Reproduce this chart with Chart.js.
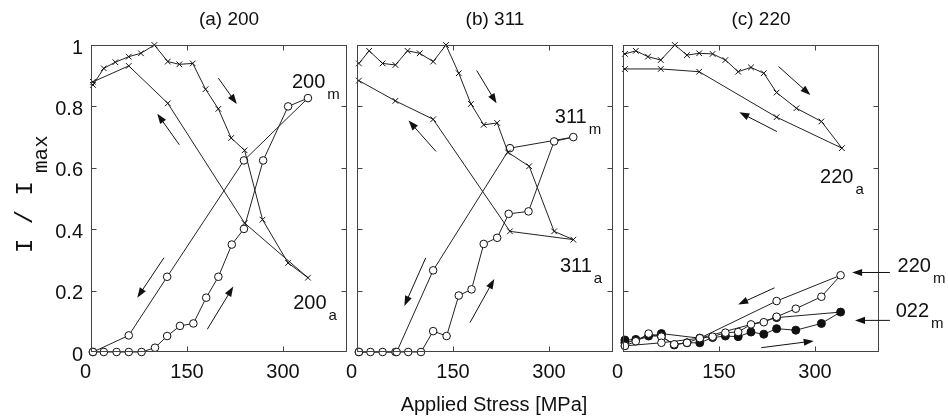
<!DOCTYPE html>
<html><head><meta charset="utf-8">
<script src="https://cdn.jsdelivr.net/npm/chart.js@4/dist/chart.umd.min.js"></script>
<style>
html,body{margin:0;padding:0;background:#fff;}
#wrap{position:relative;width:948px;height:420px;background:#fff;}
#wrap canvas{position:absolute;left:0;top:0;}
</style></head><body>
<div id="wrap">
<canvas id="ca" width="948" height="420"></canvas>
<canvas id="cb" width="948" height="420"></canvas>
<canvas id="cc" width="948" height="420"></canvas>
</div>
<script>
// ---- tick labels ----
const xTickValues = [0, 150, 300];
const xTickLabels = ['0', '150', '300'];
const yTickValues = [0, 0.2, 0.4, 0.6, 0.8, 1];
const yTickLabels = ['0', '0.2', '0.4', '0.6', '0.8', '1'];

// ---- panel (a) 200 ----
const stressA_a = [3, 20, 38, 59, 78, 99, 120, 138, 159, 179, 199, 219, 240, 268, 308, 339, 240, 120, 59, 3];
const intA_a    = [0.87, 0.924, 0.944, 0.962, 0.973, 1.0, 0.946, 0.937, 0.94, 0.856, 0.792, 0.697, 0.657, 0.431, 0.29, 0.242, 0.42, 0.81, 0.932, 0.88];
const stressA_m = [3, 20, 40, 59, 79, 100, 119, 139, 160, 180, 199, 220, 239, 269, 308, 339, 239, 119, 59, 3];
const intA_m    = [0, 0, 0, 0, 0, 0.014, 0.052, 0.085, 0.093, 0.177, 0.245, 0.35, 0.401, 0.624, 0.80, 0.827, 0.624, 0.245, 0.054, 0];

// ---- panel (b) 311 ----
const stressB_a = [3, 19, 40, 60, 79, 98, 119, 139, 159, 178, 198, 219, 236, 269, 308, 338, 239, 119, 60, 3];
const intB_a    = [0.94, 0.981, 0.94, 0.935, 0.981, 0.973, 0.946, 1.0, 0.908, 0.808, 0.74, 0.746, 0.65, 0.605, 0.393, 0.366, 0.393, 0.758, 0.818, 0.884];
const stressB_m = [3, 21, 40, 60, 80, 100, 119, 140, 159, 179, 198, 219, 237, 268, 308, 338, 239, 119, 62, 3];
const intB_m    = [0, 0, 0, 0, 0, 0, 0.068, 0.052, 0.184, 0.204, 0.352, 0.372, 0.45, 0.458, 0.686, 0.70, 0.664, 0.266, 0, 0];

// ---- panel (c) 220 ----
const stressC_a = [3, 20, 39, 59, 81, 100, 119, 140, 160, 180, 200, 220, 240, 271, 310, 342, 240, 119, 59, 3];
const intC_a    = [0.971, 0.981, 0.962, 0.951, 1.0, 0.967, 0.973, 0.971, 0.951, 0.913, 0.927, 0.908, 0.845, 0.794, 0.751, 0.664, 0.765, 0.913, 0.922, 0.922];
const stressC_m = [3, 20, 40, 60, 80, 100, 120, 140, 160, 180, 200, 220, 240, 270, 310, 340, 240, 120, 60, 3];
const intC_m    = [0.02, 0.035, 0.06, 0.05, 0.025, 0.03, 0.045, 0.05, 0.063, 0.065, 0.09, 0.097, 0.115, 0.141, 0.18, 0.25, 0.166, 0.045, 0.03, 0.02];
const stressC_f = [3, 20, 40, 60, 80, 100, 120, 140, 160, 180, 200, 220, 240, 270, 310, 340, 240, 120, 60, 3];
const intC_f    = [0.039, 0.041, 0.052, 0.052, 0.023, 0.03, 0.03, 0.047, 0.052, 0.05, 0.065, 0.058, 0.076, 0.071, 0.093, 0.13, 0.112, 0.045, 0.06, 0.03];

const FONT = '"Liberation Sans", Arial, sans-serif';
const MONO = '"Liberation Mono", "Courier New", monospace';
const INK = '#111';

function pts(xs, ys) { return xs.map((v, i) => ({ x: v, y: ys[i] })); }

function crossDs(xs, ys) {
  return { data: pts(xs, ys), showLine: true, borderColor: '#222', borderWidth: 1,
    pointStyle: 'crossRot', pointRadius: 4, pointBorderColor: INK, pointBorderWidth: 1,
    pointBackgroundColor: INK, clip: false };
}
function openDs(xs, ys) {
  return { data: pts(xs, ys), showLine: true, borderColor: '#222', borderWidth: 1,
    pointStyle: 'circle', pointRadius: 3.8, pointBorderColor: INK, pointBorderWidth: 1,
    pointBackgroundColor: '#fff', clip: false };
}
function filledDs(xs, ys) {
  return { data: pts(xs, ys), showLine: true, borderColor: '#222', borderWidth: 1,
    pointStyle: 'circle', pointRadius: 4, pointBorderColor: INK, pointBorderWidth: 1,
    pointBackgroundColor: INK, clip: false };
}

function drawArrow(ctx, x1, y1, x2, y2) {
  const ang = Math.atan2(y2 - y1, x2 - x1);
  const L = 10, H = 3.6;
  ctx.beginPath();
  ctx.moveTo(x1, y1);
  ctx.lineTo(x2 - L * 0.8 * Math.cos(ang), y2 - L * 0.8 * Math.sin(ang));
  ctx.stroke();
  ctx.beginPath();
  ctx.moveTo(x2, y2);
  ctx.lineTo(x2 - L * Math.cos(ang) + H * Math.sin(ang), y2 - L * Math.sin(ang) - H * Math.cos(ang));
  ctx.lineTo(x2 - L * Math.cos(ang) - H * Math.sin(ang), y2 - L * Math.sin(ang) + H * Math.cos(ang));
  ctx.closePath();
  ctx.fill();
}

const framePlugin = {
  id: 'frame',
  afterDatasetsDraw(chart) {
    const { ctx, chartArea: a, scales: { x, y } } = chart;
    ctx.save();
    ctx.strokeStyle = '#444';
    ctx.lineWidth = 1;
    const L = Math.round(a.left) + 0.5, R = Math.round(a.right) - 0.5;
    const T = Math.round(a.top) + 0.5, B = Math.round(a.bottom) - 0.5;
    ctx.strokeRect(L, T, R - L, B - T);
    ctx.beginPath();
    xTickValues.forEach(v => {
      if (v === 0) return;
      const px = Math.round(x.getPixelForValue(v)) + 0.5;
      ctx.moveTo(px, B); ctx.lineTo(px, B - 5);
      ctx.moveTo(px, T); ctx.lineTo(px, T + 5);
    });
    yTickValues.forEach(v => {
      if (v === 0 || v === 1) return;
      const py = Math.round(y.getPixelForValue(v)) + 0.5;
      ctx.moveTo(L, py); ctx.lineTo(L + 5, py);
      ctx.moveTo(R, py); ctx.lineTo(R - 5, py);
    });
    ctx.stroke();
    ctx.restore();
  }
};

const annotPlugin = {
  id: 'annot',
  afterDraw(chart, args, opts) {
    const { ctx, chartArea: a, scales: { x, y } } = chart;
    ctx.save();
    ctx.fillStyle = INK; ctx.strokeStyle = INK; ctx.lineWidth = 1;
    (opts.arrows || []).forEach(r => drawArrow(ctx,
      x.getPixelForValue(r[0]), y.getPixelForValue(r[1]),
      x.getPixelForValue(r[2]), y.getPixelForValue(r[3])));
    (opts.labels || []).forEach(l => {
      const px = x.getPixelForValue(l.x), py = y.getPixelForValue(l.y);
      ctx.textAlign = 'left'; ctx.textBaseline = 'alphabetic';
      ctx.font = '20px ' + FONT;
      ctx.fillText(l.t, px, py);
      const w = ctx.measureText(l.t).width;
      ctx.font = '15px ' + FONT;
      ctx.fillText(l.s, px + w + 2, py + 11);
    });
    if (opts.title) {
      ctx.font = '19px ' + FONT;
      ctx.textAlign = 'center'; ctx.textBaseline = 'middle';
      ctx.fillText(opts.title, (a.left + a.right) / 2 + 10, 20);
    }
    if (opts.xTitle) {
      ctx.font = '20px ' + FONT;
      ctx.textAlign = 'center'; ctx.textBaseline = 'middle';
      ctx.fillText(opts.xTitle, (a.left + a.right) / 2 + 9, 405);
    }
    if (opts.yTitle) {
      ctx.translate(32, 253);
      ctx.rotate(-Math.PI / 2);
      ctx.textAlign = 'left'; ctx.textBaseline = 'alphabetic';
      ctx.font = '24px ' + MONO;
      ctx.fillText(opts.yTitle[0], 0, 0);
      const w = ctx.measureText(opts.yTitle[0]).width;
      ctx.font = '21px ' + MONO;
      ctx.fillText(opts.yTitle[1], w + 8, 15);
    }
    ctx.restore();
  }
};

function makeChart(id, left, datasets, showY, annot) {
  return new Chart(document.getElementById(id), {
    type: 'scatter',
    data: { datasets },
    options: {
      responsive: false, animation: false, devicePixelRatio: 1,
      layout: { padding: { left: showY ? 0 : left, right: 948 - (left + 256), top: 45, bottom: 0 } },
      plugins: { legend: { display: false }, tooltip: { enabled: false }, title: { display: false }, annot },
      scales: {
        x: {
          type: 'linear', min: 0, max: 400,
          afterBuildTicks: s => { s.ticks = xTickValues.map(v => ({ value: v })); },
          afterFit: s => { s.height = 68; },
          grid: { display: false, drawTicks: false }, border: { display: false },
          ticks: { color: INK, font: { family: FONT, size: 20 }, padding: 8, maxRotation: 0, autoSkip: false,
            callback: (v, i) => (i === 0 ? xTickLabels[i] + '  ' : xTickLabels[i]) }
        },
        y: {
          type: 'linear', min: 0, max: 1,
          afterBuildTicks: s => { s.ticks = yTickValues.map(v => ({ value: v })); },
          afterFit: s => { s.width = showY ? left : 0; },
          grid: { display: false, drawTicks: false }, border: { display: false },
          ticks: { display: showY, color: INK, font: { family: FONT, size: 20 }, padding: 8, labelOffset: 3,
            callback: (v, i) => yTickLabels[i] }
        }
      }
    },
    plugins: [framePlugin, annotPlugin]
  });
}

makeChart('ca', 91, [crossDs(stressA_a, intA_a), openDs(stressA_m, intA_m)], true, {
  title: '(a) 200',
  yTitle: ['I / I', 'max'],
  arrows: [[199, 0.892, 227.7, 0.808], [138, 0.675, 103.6, 0.776], [114, 0.307, 72.3, 0.177], [181.7, 0.074, 222.3, 0.213]],
  labels: [{ x: 314, y: 0.86, t: '200', s: 'm' }, { x: 316, y: 0.139, t: '200', s: 'a' }]
});
makeChart('cb', 357, [crossDs(stressB_a, intB_a), openDs(stressB_m, intB_m)], false, {
  title: '(b) 311',
  xTitle: 'Applied Stress [MPa]',
  arrows: [[187, 0.917, 218, 0.81], [123.5, 0.653, 80.6, 0.754], [107.4, 0.307, 74, 0.15], [176.6, 0.096, 214.5, 0.238]],
  labels: [{ x: 309, y: 0.746, t: '311', s: 'm' }, { x: 317, y: 0.259, t: '311', s: 'a' }]
});
makeChart('cc', 623, [crossDs(stressC_a, intC_a), openDs(stressC_m, intC_m), filledDs(stressC_f, intC_f)], false, {
  title: '(c) 220',
  arrows: [[243, 0.93, 292.8, 0.837], [240.5, 0.718, 181.8, 0.781], [236.7, 0.209, 180, 0.155], [216, 0.014, 298, 0.036],
           [417, 0.259, 358, 0.259], [417, 0.103, 362.5, 0.103]],
  labels: [{ x: 308, y: 0.552, t: '220', s: 'a' }, { x: 429, y: 0.259, t: '220', s: 'm' }, { x: 426, y: 0.113, t: '022', s: 'm' }]
});
</script>
</body></html>
